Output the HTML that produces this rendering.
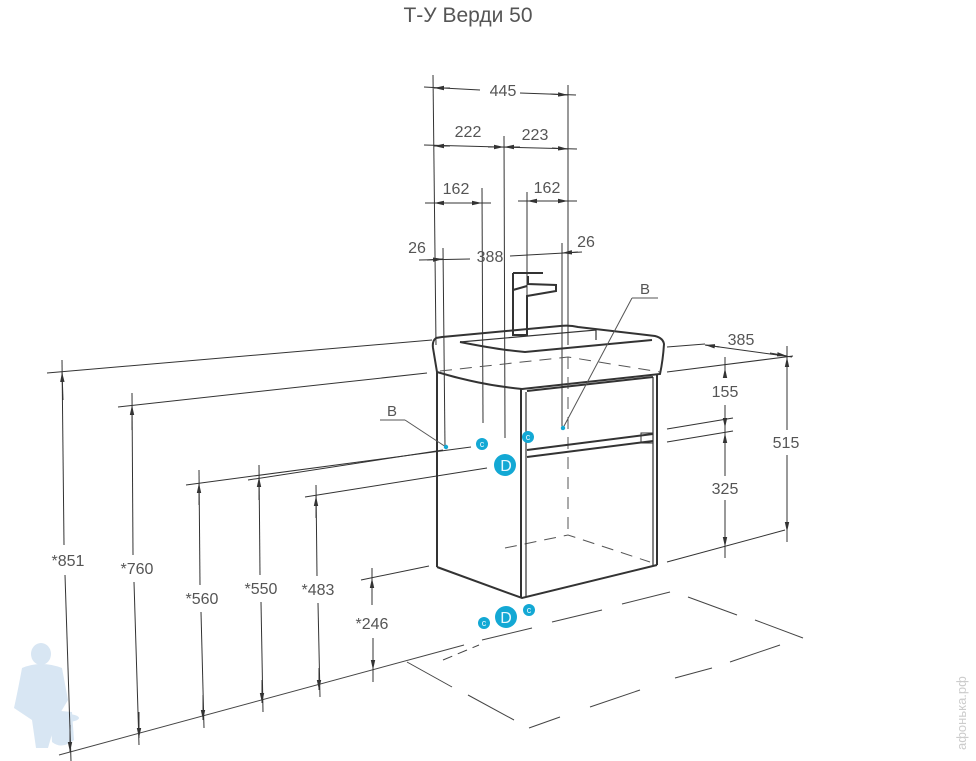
<!DOCTYPE html>
<html><head><meta charset="utf-8"><style>
html,body{margin:0;padding:0;background:#fff;}
svg{display:block;}
text{font-family:"Liberation Sans",sans-serif;fill:#555;}
</style></head><body>
<svg width="976" height="761" viewBox="0 0 976 761" xmlns="http://www.w3.org/2000/svg">
<defs>
<marker id="a" viewBox="0 0 10 6" refX="10" refY="3" markerWidth="10" markerHeight="6" orient="auto" markerUnits="userSpaceOnUse"><path d="M0,0.8 L10,3 L0,5.2z" fill="#333"/></marker>
</defs>
<text x="468" y="22" font-size="21" text-anchor="middle" fill="#555">Т-У Верди 50</text>

<!-- watermark figure -->
<g fill="#d8e6f3">
<ellipse cx="41" cy="654" rx="10" ry="11"/>
<path d="M22,668 Q41,660 62,668 L68,700 L56,720 L48,748 L36,748 L32,720 L14,708 Q18,690 22,668z"/>
<path d="M50,710 L72,712 L74,740 Q62,750 52,742z"/>
<ellipse cx="66" cy="718" rx="13" ry="4"/>
</g>

<g stroke="#333" stroke-width="1" fill="none">
<line x1="433" y1="75" x2="436" y2="345"/>
<line x1="568" y1="85" x2="568" y2="345"/>
<line x1="504" y1="136" x2="505" y2="438"/>
<line x1="482" y1="188" x2="483" y2="423"/>
<line x1="527" y1="192" x2="527" y2="333"/>
<line x1="443" y1="248" x2="445" y2="447"/>
<line x1="562" y1="243" x2="562" y2="430"/>
<line x1="424" y1="87" x2="480" y2="90"/><line x1="450" y1="88" x2="434" y2="88" marker-end="url(#a)"/>
<line x1="520" y1="93" x2="576" y2="95"/><line x1="550" y1="94" x2="568" y2="95" marker-end="url(#a)"/>
<line x1="424" y1="145" x2="577" y2="149"/>
<line x1="450" y1="146" x2="434" y2="146" marker-end="url(#a)"/>
<line x1="488" y1="147" x2="504" y2="147" marker-end="url(#a)"/>
<line x1="520" y1="147" x2="504" y2="147" marker-end="url(#a)"/>
<line x1="552" y1="148" x2="568" y2="149" marker-end="url(#a)"/>
<line x1="425" y1="203" x2="491" y2="203"/>
<line x1="450" y1="203" x2="434" y2="203" marker-end="url(#a)"/>
<line x1="466" y1="203" x2="482" y2="203" marker-end="url(#a)"/>
<line x1="518" y1="201" x2="577" y2="201"/>
<line x1="543" y1="201" x2="527" y2="201" marker-end="url(#a)"/>
<line x1="552" y1="201" x2="568" y2="201" marker-end="url(#a)"/>
<line x1="419" y1="260" x2="470" y2="259"/>
<line x1="510" y1="256" x2="582" y2="252"/>
<line x1="427" y1="260" x2="443" y2="259" marker-end="url(#a)"/>
<line x1="578" y1="252" x2="562" y2="253" marker-end="url(#a)"/>
</g>
<g font-size="16">
<text x="503" y="96" text-anchor="middle">445</text>
<text x="468" y="137" text-anchor="middle">222</text>
<text x="535" y="140" text-anchor="middle">223</text>
<text x="456" y="194" text-anchor="middle">162</text>
<text x="547" y="193" text-anchor="middle">162</text>
<text x="417" y="253" text-anchor="middle">26</text>
<text x="490" y="262" text-anchor="middle">388</text>
<text x="586" y="247" text-anchor="middle">26</text>
</g>

<g stroke="#333" stroke-width="2" fill="none">
<path d="M513,273 L543,273"/>
<path d="M513,273 L513,335 L527,335 L527,296 L556,291 L556,285 L528,284 L528,276"/>
<path d="M513,290 L527,286"/>
</g>

<g stroke="#333" stroke-width="2" fill="none">
<path d="M436,338 Q432,341 433,348 L437,372 Q480,385 522,389 L660,374 Q663,360 664,344 Q663,338 655,336 L578,327 Q570,325 560,326 L442,337z"/>
<path d="M460,342 Q500,350 525,352 L652,340"/>
<path d="M460,342 L596,330 L596,340" stroke-width="1.2"/>
</g>
<g stroke="#555" stroke-width="1" fill="none" stroke-dasharray="12,8">
<path d="M440,371 L568,357 L660,372"/>
<line x1="568" y1="357" x2="568" y2="535"/>
<path d="M505,548 L568,535 L650,562"/>
</g>

<g stroke="#333" stroke-width="2" fill="none">
<line x1="437" y1="372" x2="437" y2="567"/>
<path d="M437,567 L522,598 L657,565"/>
<line x1="521" y1="389" x2="521" y2="598"/>
<line x1="526" y1="392" x2="526" y2="597" stroke-width="1.2"/>
<line x1="657" y1="374" x2="657" y2="565"/>
<line x1="653" y1="377" x2="653" y2="565" stroke-width="1.2"/>
<line x1="527" y1="391" x2="653" y2="377"/>
<line x1="527" y1="450" x2="653" y2="434"/>
<line x1="527" y1="457" x2="653" y2="441"/>
<rect x="641" y="433" width="12" height="10" stroke-width="1"/>
</g>

<g stroke="#555" stroke-width="1" fill="none">
<line x1="632" y1="298" x2="658" y2="298"/>
<line x1="632" y1="298" x2="563" y2="428"/>
<line x1="380" y1="420" x2="405" y2="420"/>
<line x1="405" y1="420" x2="446" y2="447"/>
</g>
<text x="645" y="294" font-size="15" text-anchor="middle">B</text>
<text x="392" y="416" font-size="15" text-anchor="middle">B</text>

<g fill="#13a8d4">
<circle cx="563" cy="428" r="2.2"/>
<circle cx="446" cy="447" r="2.2"/>
<circle cx="482" cy="444" r="6"/>
<circle cx="528" cy="437" r="6"/>
<circle cx="505" cy="465" r="11"/>
<circle cx="484" cy="623" r="6"/>
<circle cx="529" cy="610" r="6"/>
<circle cx="506" cy="617" r="11"/>
</g>
<g font-size="9" text-anchor="middle">
<text x="482" y="447" style="fill:#e8f8ff">c</text>
<text x="528" y="440" style="fill:#e8f8ff">c</text>
<text x="484" y="626" style="fill:#e8f8ff">c</text>
<text x="529" y="613" style="fill:#e8f8ff">c</text>
<text x="506" y="471" font-size="16" style="fill:#e8f8ff">D</text>
<text x="506" y="623" font-size="16" style="fill:#e8f8ff">D</text>
</g>

<g stroke="#333" stroke-width="1" fill="none">
<line x1="667" y1="347" x2="705" y2="344"/>
<line x1="705" y1="345" x2="792" y2="357"/>
<line x1="720" y1="347" x2="705" y2="345" marker-end="url(#a)"/>
<line x1="770" y1="353" x2="787" y2="356" marker-end="url(#a)"/>
<line x1="667" y1="372" x2="793" y2="356"/>
<line x1="787" y1="346" x2="787" y2="430"/>
<line x1="787" y1="455" x2="787" y2="542"/>
<line x1="787" y1="372" x2="787" y2="357" marker-end="url(#a)"/>
<line x1="787" y1="515" x2="787" y2="532" marker-end="url(#a)"/>
<line x1="667" y1="562" x2="785" y2="530"/>
<line x1="725" y1="357" x2="725" y2="378"/>
<line x1="725" y1="372" x2="725" y2="368" marker-end="url(#a)"/>
<line x1="725" y1="405" x2="725" y2="476"/>
<line x1="725" y1="500" x2="725" y2="558"/>
<line x1="725" y1="412" x2="725" y2="428" marker-end="url(#a)"/>
<line x1="725" y1="450" x2="725" y2="433" marker-end="url(#a)"/>
<line x1="725" y1="530" x2="725" y2="547" marker-end="url(#a)"/>
<line x1="667" y1="429" x2="733" y2="418"/>
<line x1="667" y1="442" x2="733" y2="431"/>
</g>
<g font-size="16" text-anchor="middle">
<text x="741" y="345">385</text>
<text x="725" y="397">155</text>
<text x="725" y="494">325</text>
<text x="786" y="448">515</text>
</g>

<g stroke="#444" stroke-width="1" fill="none">
<line x1="59" y1="755" x2="464" y2="645"/>
<line x1="482" y1="640" x2="532" y2="628"/>
<line x1="552" y1="622" x2="602" y2="610"/>
<line x1="622" y1="604" x2="670" y2="592"/>
<line x1="407" y1="662" x2="452" y2="687"/>
<line x1="468" y1="695" x2="514" y2="720"/>
<line x1="529" y1="728" x2="560" y2="717"/>
<line x1="590" y1="707" x2="640" y2="690"/>
<line x1="675" y1="678" x2="712" y2="668"/>
<line x1="730" y1="662" x2="780" y2="645"/>
<line x1="688" y1="597" x2="737" y2="615"/>
<line x1="755" y1="620" x2="803" y2="638"/>
<line x1="443" y1="660" x2="479" y2="645" stroke-dasharray="10,6"/>
</g>

<g stroke="#333" stroke-width="1" fill="none">
<line x1="47" y1="373" x2="432" y2="340"/>
<line x1="118" y1="407" x2="427" y2="373"/>
<line x1="186" y1="485" x2="471" y2="447"/>
<line x1="248" y1="480" x2="443" y2="450"/>
<line x1="305" y1="497" x2="487" y2="468"/>
<line x1="361" y1="580" x2="429" y2="566"/>
<line x1="62" y1="360" x2="64" y2="545"/><line x1="65" y1="575" x2="71" y2="761"/>
<line x1="63" y1="400" x2="62" y2="372" marker-end="url(#a)"/>
<line x1="70" y1="725" x2="70" y2="752" marker-end="url(#a)"/>
<line x1="132" y1="393" x2="133" y2="555"/><line x1="134" y1="582" x2="139" y2="745"/>
<line x1="132" y1="430" x2="132" y2="405" marker-end="url(#a)"/>
<line x1="139" y1="712" x2="139" y2="738" marker-end="url(#a)"/>
<line x1="199" y1="470" x2="200" y2="585"/><line x1="201" y1="612" x2="204" y2="728"/>
<line x1="199" y1="505" x2="199" y2="483" marker-end="url(#a)"/>
<line x1="203" y1="695" x2="203" y2="720" marker-end="url(#a)"/>
<line x1="259" y1="465" x2="260" y2="575"/><line x1="261" y1="602" x2="263" y2="712"/>
<line x1="259" y1="500" x2="259" y2="477" marker-end="url(#a)"/>
<line x1="262" y1="680" x2="262" y2="703" marker-end="url(#a)"/>
<line x1="316" y1="485" x2="317" y2="576"/><line x1="318" y1="603" x2="320" y2="697"/>
<line x1="316" y1="518" x2="316" y2="496" marker-end="url(#a)"/>
<line x1="319" y1="668" x2="319" y2="690" marker-end="url(#a)"/>
<line x1="372" y1="568" x2="372" y2="605"/><line x1="373" y1="638" x2="373" y2="682"/>
<line x1="372" y1="598" x2="372" y2="578" marker-end="url(#a)"/>
<line x1="373" y1="650" x2="373" y2="670" marker-end="url(#a)"/>
</g>
<g font-size="16" text-anchor="middle">
<text x="68" y="566">*851</text>
<text x="137" y="574">*760</text>
<text x="202" y="604">*560</text>
<text x="261" y="594">*550</text>
<text x="318" y="595">*483</text>
<text x="372" y="629">*246</text>
</g>

<text transform="translate(966,750) rotate(-90)" font-size="13" style="fill:#ccc">афонька.рф</text>
</svg>
</body></html>
